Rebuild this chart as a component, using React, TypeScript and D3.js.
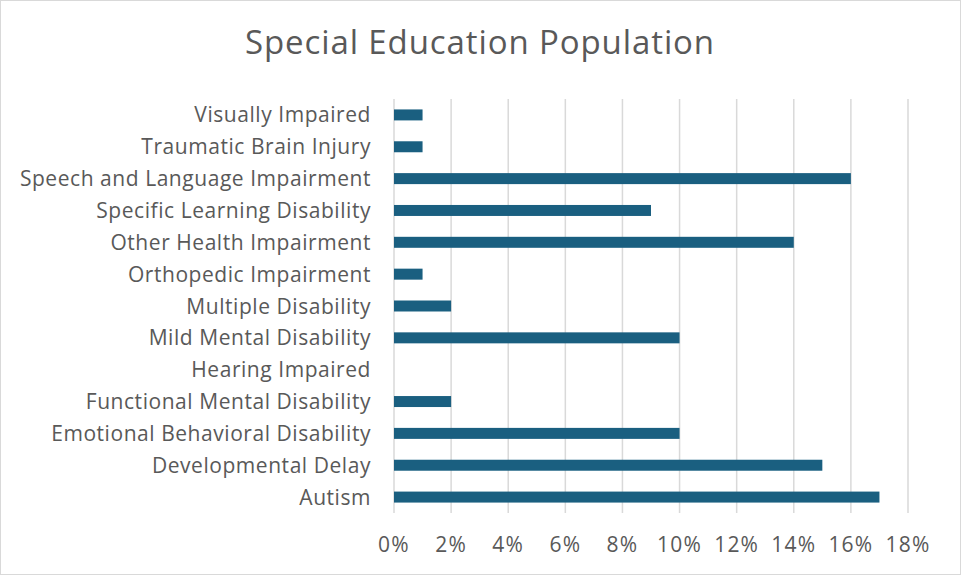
import React from 'react';
import * as d3 from 'd3';

const categories = [
  'Visually Impaired',
  'Traumatic Brain Injury',
  'Speech and Language Impairment',
  'Specific Learning Disability',
  'Other Health Impairment',
  'Orthopedic Impairment',
  'Multiple Disability',
  'Mild Mental Disability',
  'Hearing Impaired',
  'Functional Mental Disability',
  'Emotional Behavioral Disability',
  'Developmental Delay',
  'Autism',
];
const shares = [0.01, 0.01, 0.16, 0.09, 0.14, 0.01, 0.02, 0.1, 0, 0.02, 0.1, 0.15, 0.17];
const ticks = [0, 0.02, 0.04, 0.06, 0.08, 0.1, 0.12, 0.14, 0.16, 0.18];

const W = 961;
const H = 575;
const font = "'Open Sans', 'Liberation Sans', sans-serif";
const textColor = '#595959';

export default function App() {
  const x = d3.scaleLinear().domain([0, 0.18]).range([394, 908]);
  const y = d3.scaleBand().domain(categories).range([99, 513]).paddingInner(0.655).paddingOuter(0.3275);
  const fmt = d3.format('.0%');

  return (
    <svg width={W} height={H} style={{position: 'absolute', left: 0, top: 0, background: '#fff'}}>
      <rect x={0.5} y={0.5} width={W - 1} height={H - 1} fill="#fff" stroke="#d9d9d9" />
      <text x={480} y={54} textAnchor="middle" fontFamily={font} fontSize={33} letterSpacing={0.9} fill={textColor}>
        Special Education Population
      </text>
      {ticks.map((t) => (
        <line key={t} x1={x(t)} x2={x(t)} y1={99} y2={513} stroke="#d9d9d9" strokeWidth={1.5} />
      ))}
      {categories.map((c, i) => (
        <g key={c}>
          <rect x={x(0)} y={y(c)!} width={x(shares[i]) - x(0)} height={y.bandwidth()} fill="#1a5f80" />
          <text x={371} y={y(c)! + y.bandwidth() / 2} dy="0.36em" textAnchor="end" fontFamily={font} fontSize={21} letterSpacing={0.55} fill={textColor}>
            {c}
          </text>
        </g>
      ))}
      {ticks.map((t) => (
        <text key={t} x={x(t)} y={552} textAnchor="middle" fontFamily={font} fontSize={21} letterSpacing={1.2} fill={textColor}>
          {fmt(t)}
        </text>
      ))}
    </svg>
  );
}
